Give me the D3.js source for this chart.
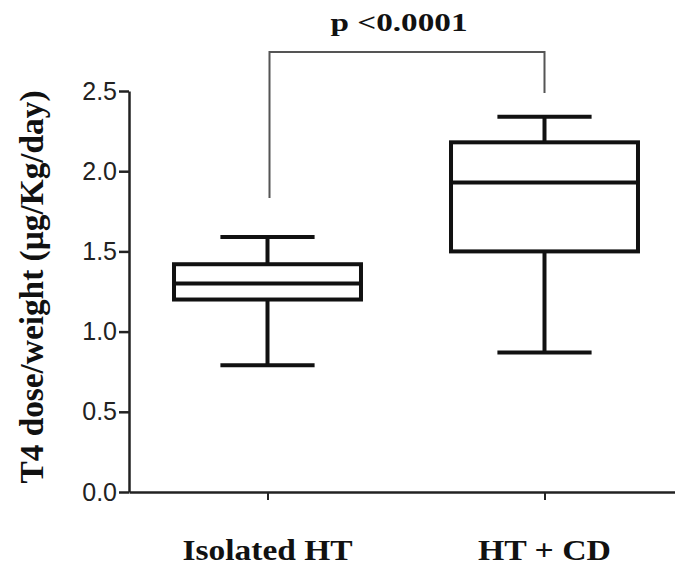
<!DOCTYPE html>
<html>
<head>
<meta charset="utf-8">
<script src="https://d3js.org/d3.v7.min.js"></script>
<style>
  body { margin: 0; background: #fff; }
  svg { display: block; }
</style>
</head>
<body>
<svg></svg>
<script>
let groups = ["Isolated HT", "HT + CD"]
// min, q1, median, q3, max
let mins = [0.79, 0.87]
let q1s = [1.20, 1.50]
let medians = [1.30, 1.93]
let q3s = [1.42, 2.18]
let maxs = [1.59, 2.34]
let yTicks = [0, 0.5, 1.0, 1.5, 2.0, 2.5]
let pLabel = "p <0.0001"

let svgWidth = 675,
    svgHeight = 566

let svg = d3.select('svg')
    .attr('width', svgWidth)
    .attr('height', svgHeight)

let y = d3.scaleLinear().domain([0, 2.5]).range([492, 91])
let x = d3.scalePoint().domain(groups).range([129, 683]).padding(0.5)
let step = x.step()
let boxW = step * 0.675,
    capW = step * 0.34

// Y AXIS
let yAxis = svg.append('g')
    .attr('transform', 'translate(129,0)')
    .call(d3.axisLeft(y).tickValues(yTicks).tickFormat(d3.format('.1f')).tickSize(10).tickPadding(2).tickSizeOuter(0))
yAxis.select('.domain').attr('stroke', '#222').attr('stroke-width', 2.5)
yAxis.selectAll('.tick line').attr('stroke', '#222').attr('stroke-width', 2.5)
yAxis.selectAll('.tick text')
    .attr('font-family', 'Liberation Sans, Arial, sans-serif')
    .attr('font-size', 25)
    .attr('fill', '#222')

// X AXIS
let xAxis = svg.append('g')
    .attr('transform', `translate(0,${y(0)})`)
    .call(d3.axisBottom(x).tickSize(8).tickSizeOuter(0).tickFormat(''))
xAxis.select('.domain').attr('stroke', '#222').attr('stroke-width', 2.5)
xAxis.selectAll('.tick line').attr('stroke', '#222').attr('stroke-width', 2)

let labelW = [170, 133]
svg.selectAll('.xlab')
    .data(groups)
    .enter()
    .append('text')
    .attr('class', 'xlab')
    .attr('x', d => x(d))
    .attr('y', 560)
    .attr('text-anchor', 'middle')
    .attr('font-family', 'Liberation Serif, Times New Roman, serif')
    .attr('font-weight', 'bold')
    .attr('font-size', 29)
    .attr('textLength', (d, i) => labelW[i])
    .attr('lengthAdjust', 'spacingAndGlyphs')
    .attr('fill', '#111')
    .text(d => d)

// Y TITLE
svg.append('text')
    .attr('transform', 'translate(43,287) rotate(-90)')
    .attr('text-anchor', 'middle')
    .attr('font-family', 'Liberation Serif, Times New Roman, serif')
    .attr('font-weight', 'bold')
    .attr('font-size', 33)
    .attr('textLength', 393)
    .attr('lengthAdjust', 'spacingAndGlyphs')
    .attr('fill', '#111')
    .text('T4 dose/weight (µg/Kg/day)')

// BOXES
let boxes = svg.selectAll('.box')
    .data(groups)
    .enter()
    .append('g')
    .attr('class', 'box')
    .attr('stroke', '#111')
    .attr('stroke-width', 4)
    .attr('fill', 'none')

// whiskers
boxes.append('line')
    .attr('x1', d => x(d)).attr('x2', d => x(d))
    .attr('y1', (d, i) => y(maxs[i])).attr('y2', (d, i) => y(q3s[i]))
boxes.append('line')
    .attr('x1', d => x(d)).attr('x2', d => x(d))
    .attr('y1', (d, i) => y(q1s[i])).attr('y2', (d, i) => y(mins[i]))
// caps
boxes.append('line')
    .attr('x1', d => x(d) - capW / 2).attr('x2', d => x(d) + capW / 2)
    .attr('y1', (d, i) => y(maxs[i])).attr('y2', (d, i) => y(maxs[i]))
boxes.append('line')
    .attr('x1', d => x(d) - capW / 2).attr('x2', d => x(d) + capW / 2)
    .attr('y1', (d, i) => y(mins[i])).attr('y2', (d, i) => y(mins[i]))
// box
boxes.append('rect')
    .attr('x', d => x(d) - boxW / 2)
    .attr('width', boxW)
    .attr('y', (d, i) => y(q3s[i]))
    .attr('height', (d, i) => y(q1s[i]) - y(q3s[i]))
    .attr('fill', '#fff')
// median
boxes.append('line')
    .attr('x1', d => x(d) - boxW / 2).attr('x2', d => x(d) + boxW / 2)
    .attr('y1', (d, i) => y(medians[i])).attr('y2', (d, i) => y(medians[i]))

// SIGNIFICANCE BRACKET
let bTop = 2.743, bLeft = 1.833, bRight = 2.488
let x0 = x(groups[0]) + 2, x1 = x(groups[1])
svg.append('path')
    .attr('d', `M${x0},${y(bLeft)}V${y(bTop)}H${x1}V${y(bRight)}`)
    .attr('fill', 'none')
    .attr('stroke', '#555')
    .attr('stroke-width', 2)

svg.append('text')
    .attr('x', (x0 + x1) / 2 - 8)
    .attr('y', 31)
    .attr('text-anchor', 'middle')
    .attr('font-family', 'Liberation Serif, Times New Roman, serif')
    .attr('font-weight', 'bold')
    .attr('font-size', 25)
    .attr('textLength', 137)
    .attr('lengthAdjust', 'spacingAndGlyphs')
    .attr('fill', '#111')
    .text(pLabel)
</script>
</body>
</html>
